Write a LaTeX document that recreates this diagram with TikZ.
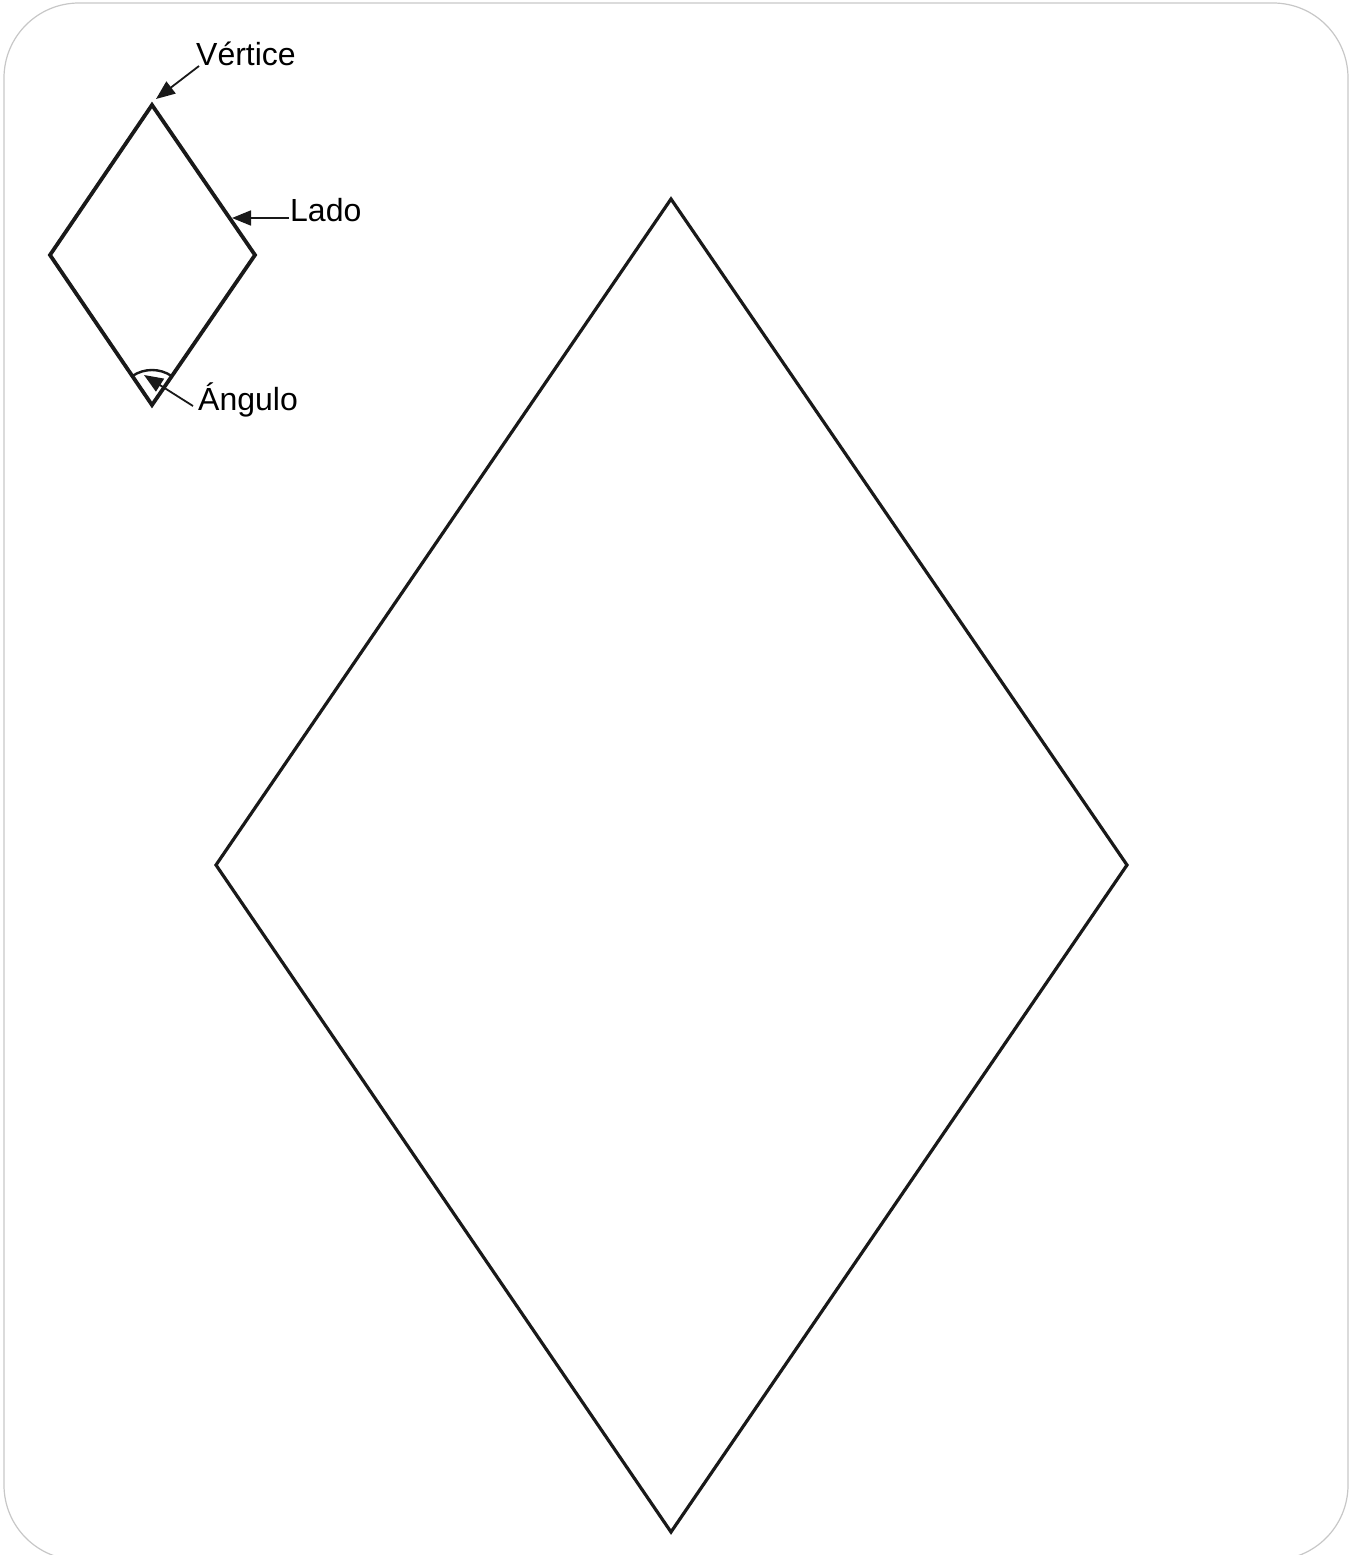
\documentclass[tikz,border=0pt]{standalone}
\usepackage{fontspec}
\setmainfont{Liberation Sans}
\usetikzlibrary{arrows.meta}
\begin{document}
\begin{tikzpicture}[x=1pt,y=-1pt,
  frame/.style={draw=black!22,line width=1.2pt,rounded corners=75pt},
  rhomb/.style={draw=black!90,line width=3.2pt,line join=miter},
  lbl/.style={font=\fontsize{32}{38}\selectfont,inner sep=0pt},
  pointer/.style={draw=black!90,line width=1.8pt,-{Triangle[length=19pt,width=15pt]}}]
\useasboundingbox (0,0) rectangle (1353,1555);
\draw[frame] (4,3) rectangle (1348,1560);
% small rhombus
\coordinate (st) at (152,105);
\coordinate (sl) at (50,255);
\coordinate (sr) at (255,255);
\coordinate (sb) at (152,405);
\draw[rhomb,line width=3.8pt] (st) -- (sr) -- (sb) -- (sl) -- cycle;
% large rhombus
\coordinate (lt) at (671,199);
\coordinate (ll) at (216,865);
\coordinate (lr) at (1127,865);
\coordinate (lb) at (671,1532);
\draw[rhomb] (lt) -- (lr) -- (lb) -- (ll) -- cycle;
% labels
\node[lbl,anchor=base west] (vert) at (196,66) {Vértice};
\node[lbl,anchor=base west] (lado) at (290,221) {Lado};
\node[lbl,anchor=base west] (ang) at (198,410) {Ángulo};
\coordinate (vtip) at (156,99);
\coordinate (ltip) at (232,218);
\coordinate (atip) at (144,375);
\coordinate (vtail) at (199,66);
\coordinate (ltail) at (289,218);
\coordinate (atail) at (193,406);
\draw[pointer] (vtail) -- (vtip);
\draw[pointer] (ltail) -- (ltip);
\draw[pointer] (atail) -- (atip);
% angle arc
\draw[draw=black!90,line width=2.4pt] (sb) ++(-124:35) arc[start angle=-124,end angle=-56,radius=35];
\end{tikzpicture}
\end{document}
